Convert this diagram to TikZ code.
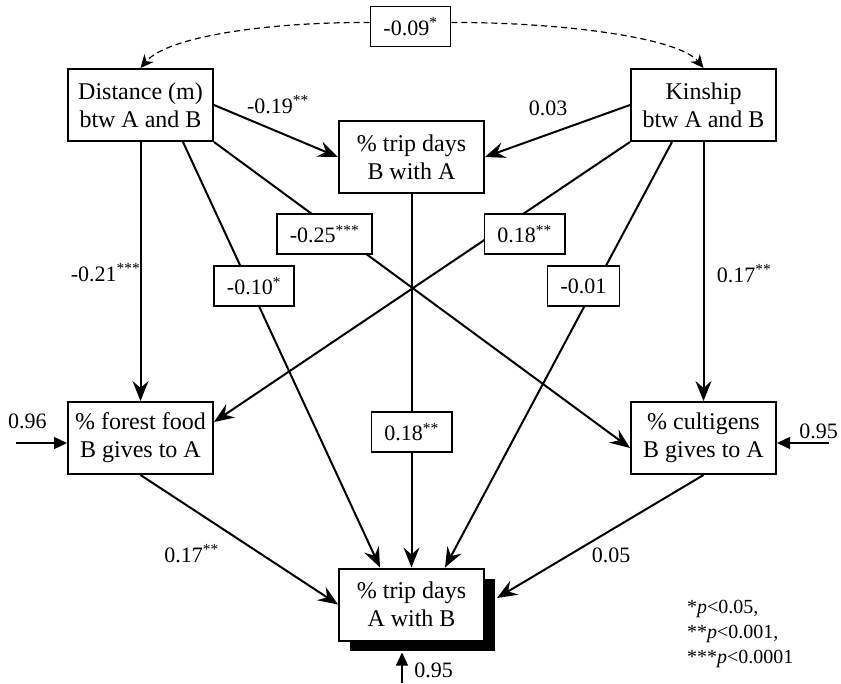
\documentclass[tikz,border=0pt]{standalone}
\usepackage{fontspec}
\setmainfont{Liberation Serif}
\usepackage{tikz}
\usetikzlibrary{arrows.meta}
\usetikzlibrary{calc}
\usetikzlibrary{positioning}
\usetikzlibrary{shadows}

\begin{document}
\begin{tikzpicture}
	[x=1pt, y=-1pt,
	> = {Stealth[length=20pt,width=16pt,inset=7pt]},
	var/.style = {draw, line width=2pt, fill=white, minimum width=145pt, minimum height=72pt, inner sep=0pt, align=center, font=\fontsize{24}{28}\selectfont},
	coef/.style = {draw, line width=1.6pt, fill=white, minimum height=40pt, inner xsep=13pt, inner ysep=0pt, font=\fontsize{22}{26}\selectfont},
	coeflabel/.style = {inner sep=0pt, anchor=base, font=\fontsize{22}{26}\selectfont},
	keylabel/.style = {inner sep=0pt, anchor=base west, font=\fontsize{20}{25}\selectfont},
	effect/.style = {->, line width=2pt},
	err/.style = {-{Triangle[length=13pt,width=12pt]}, line width=1.4pt},
	corr/.style = {dash pattern=on 6pt off 4pt, line width=1.2pt, -{Stealth[length=13pt,width=12pt,inset=4pt]}}
	]
	\useasboundingbox (0,0) rectangle (841,683);

	\node[var] (dist) at (140.5,105) {Distance (m)\\btw A and B};
	\node[var] (kin) at (703.5,105) {Kinship\\btw A and B};
	\node[var] (tripBA) at (411.5,157) {\% trip days\\B with A};
	\node[var] (food) at (140.5,438) {\% forest food\\B gives to A};
	\node[var] (cult) at (703.5,438) {\% cultigens\\B gives to A};
	\node[var, drop shadow={shadow xshift=11pt, shadow yshift=-10.5pt, fill=black, opacity=1}] (tripAB) at (411.5,604.5) {\% trip days\\A with B};
	\node[coef] (r) at (410.5,26.5) {-0.09\textsuperscript{*}};

	\draw[corr] ([yshift=4pt]r.west) .. controls (270,22) and (168,36) .. (dist.north);
	\draw[corr] ([yshift=4pt]r.east) .. controls (551,22) and (677,36) .. (kin.north);

	\draw[effect] (dist.east) -- (tripBA.west);
	\draw[effect] (kin.west) -- (tripBA.east);
	\draw[effect] (dist.south) -- (food.north);
	\draw[effect] (kin.south) -- (cult.north);
	\draw[effect] ([xshift=42.5pt]dist.south) -- ([xshift=-31.5pt]tripAB.north);
	\draw[effect] ([xshift=-31.5pt]kin.south) -- ([xshift=33.5pt]tripAB.north);
	\draw[effect] (dist.south east) -- ([yshift=-10pt]cult.west);
	\draw[effect] (kin.south west) -- ([yshift=16pt]food.east);
	\draw[effect] (tripBA.south) -- (tripAB.north);
	\draw[effect] (food.south) -- (tripAB.west);
	\draw[effect] (cult.south) -- ([xshift=12pt,yshift=6.5pt]tripAB.east);

	\coordinate (e1) at (16,443);
	\coordinate (e2) at (829,443);
	\coordinate (e3) at (402,683);
	\draw[err] (e1) -- ([yshift=-5pt]food.west);
	\draw[err] (e2) -- ([yshift=-5pt]cult.east);
	\draw[err] (e3) -- ([xshift=-9.5pt,yshift=-11pt]tripAB.south);
	\node[coeflabel] (u1) at (27.5,428) {0.96};
	\node[coeflabel] (u2) at (818.5,438) {0.95};
	\node[coeflabel] (u3) at (433.5,677) {0.95};

	\node[coeflabel] (l1) at (278,113) {-0.19\textsuperscript{**}};
	\node[coeflabel] (l2) at (548,115) {0.03};
	\node[coeflabel] (l3) at (105.5,281) {-0.21\textsuperscript{***}};
	\node[coeflabel] (l4) at (744,282) {0.17\textsuperscript{**}};
	\node[coeflabel] (l5) at (191.5,562) {0.17\textsuperscript{**}};
	\node[coeflabel] (l6) at (611,562) {0.05};

	\node[coef] (b1) at (324.5,234) {-0.25\textsuperscript{***}};
	\node[coef] (b2) at (254,286) {-0.10\textsuperscript{*}};
	\node[coef] (b3) at (524.5,234) {0.18\textsuperscript{**}};
	\node[coef] (b4) at (583.5,286) {-0.01};
	\node[coef] (b5) at (411.5,432) {0.18\textsuperscript{**}};

	\node[keylabel] (k1) at (687,613) {*\textit{p}<0.05,};
	\node[keylabel] (k2) at (687,638) {**\textit{p}<0.001,};
	\node[keylabel] (k3) at (687,663) {***\textit{p}<0.0001};
\end{tikzpicture}
\end{document}
